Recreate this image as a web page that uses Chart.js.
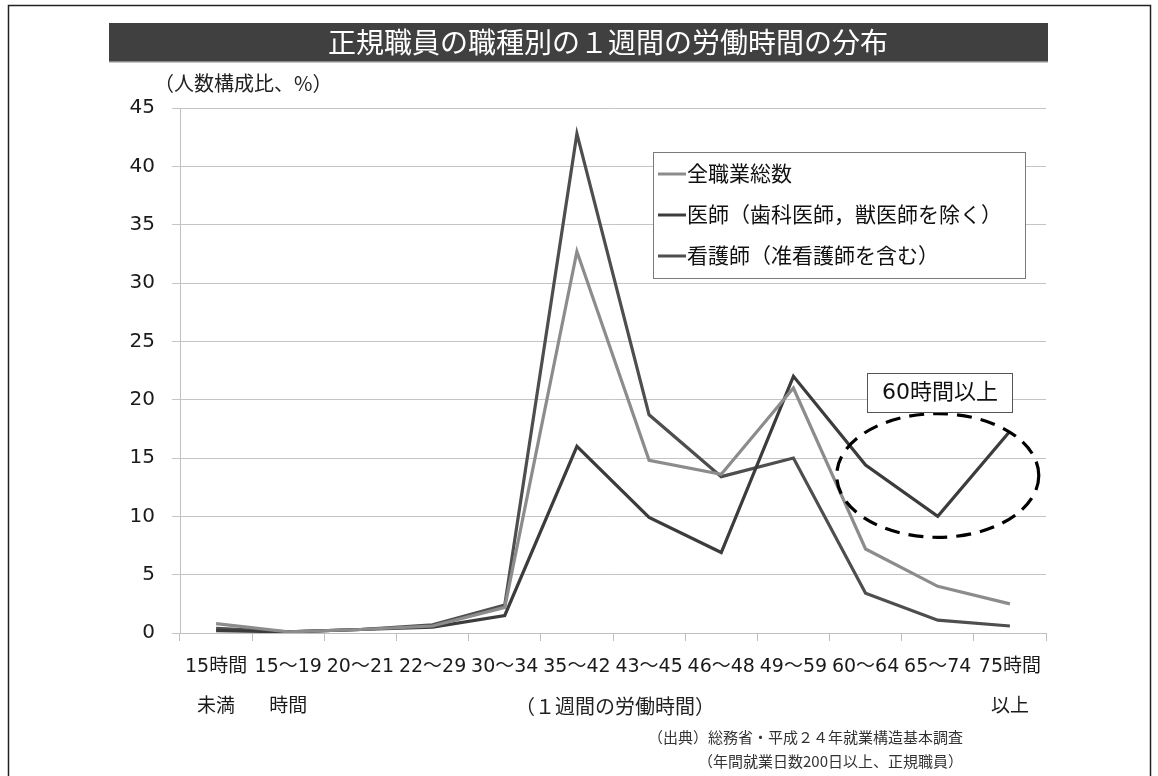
<!DOCTYPE html>
<html lang="ja">
<head>
<meta charset="utf-8">
<title>正規職員の職種別の１週間の労働時間の分布</title>
<script src="https://cdn.jsdelivr.net/npm/chart.js@4.4.1/dist/chart.umd.min.js"></script>
<style>
  html, body { margin: 0; padding: 0; background: #ffffff; }
  #wrap { position: relative; width: 1158px; height: 776px; }
  canvas { display: block; }
</style>
</head>
<body>
<div id="wrap"><canvas id="c" width="1158" height="776"></canvas></div>
<script>
// Weekly working-hour bands (x axis)
const hourBands = [
  ['15時間', '未満'], ['15～19', '時間'], '20～21', '22～29', '30～34', '35～42',
  '43～45', '46～48', '49～59', '60～64', '65～74', ['75時間', '以上']
];

// Share of regular employees in each band (%)
const allOccupations = [0.8, 0.1, 0.3, 0.6, 2.2, 32.7, 14.8, 13.6, 21.0, 7.2, 4.0, 2.5];
const doctors        = [0.2, 0.1, 0.3, 0.5, 1.5, 16.0, 9.9, 6.9, 22.0, 14.4, 10.0, 17.3];
const nurses         = [0.4, 0.1, 0.3, 0.7, 2.4, 42.8, 18.7, 13.4, 15.0, 3.4, 1.1, 0.6];

const seriesNames = ['全職業総数', '医師（歯科医師，獣医師を除く）', '看護師（准看護師を含む）'];
const yTicks = [0, 5, 10, 15, 20, 25, 30, 35, 40, 45];

const FONT = "'DejaVu Sans', 'Noto Sans CJK JP', sans-serif";
const JFONT = "'Noto Sans CJK JP', 'DejaVu Sans', sans-serif";

// Frame, title bar, captions, legend and the "60時間以上" callout
const decor = {
  id: 'decor',
  beforeDraw(chart) {
    const ctx = chart.ctx;
    ctx.save();
    ctx.fillStyle = '#ffffff';
    ctx.fillRect(0, 0, chart.width, chart.height);
    // outer frame
    ctx.strokeStyle = '#222222';
    ctx.lineWidth = 1.5;
    ctx.strokeRect(8.5, 5.5, 1142, 790);
    // title bar
    ctx.fillStyle = '#404040';
    ctx.fillRect(109, 23, 939, 39);
    ctx.fillStyle = '#8a8a8a';
    ctx.fillRect(109, 61, 939, 1.5);
    ctx.fillStyle = '#ffffff';
    ctx.font = '28px ' + JFONT;
    ctx.textAlign = 'center';
    ctx.textBaseline = 'middle';
    ctx.fillText('正規職員の職種別の１週間の労働時間の分布', 608, 42);
    // y unit
    ctx.fillStyle = '#222222';
    ctx.font = '20px ' + JFONT;
    ctx.textAlign = 'left';
    ctx.fillText('（人数構成比、%）', 154, 83);
    // x axis caption
    ctx.textAlign = 'center';
    ctx.font = '20px ' + JFONT;
    ctx.fillText('（１週間の労働時間）', 615, 706);
    // source notes
    ctx.fillStyle = '#333333';
    ctx.font = '15px ' + JFONT;
    ctx.textAlign = 'right';
    ctx.fillText('（出典）総務省・平成２４年就業構造基本調査', 963, 737);
    ctx.fillText('（年間就業日数200日以上、正規職員）', 963, 761);
    ctx.restore();
  },
  afterDatasetsDraw(chart) {
    const ctx = chart.ctx;
    const xs = chart.scales.x, ys = chart.scales.y;
    ctx.save();
    // dashed ellipse around the 60h+ bands
    const cx = xs.getPixelForValue(10);
    const cy = ys.getPixelForValue(13.5);
    const rx = (xs.getPixelForValue(11) - xs.getPixelForValue(10)) * 1.4;
    const ry = ys.getPixelForValue(0) - ys.getPixelForValue(5.3);
    ctx.beginPath();
    ctx.ellipse(cx, cy, rx, ry, 0, 0, Math.PI * 2);
    ctx.setLineDash([15, 9]);
    ctx.lineWidth = 3.2;
    ctx.strokeStyle = '#000000';
    ctx.stroke();
    ctx.setLineDash([]);
    // callout box
    ctx.fillStyle = '#ffffff';
    ctx.fillRect(867, 373, 145, 39);
    ctx.strokeStyle = '#555555';
    ctx.lineWidth = 1;
    ctx.strokeRect(867.5, 373.5, 145, 39);
    ctx.fillStyle = '#111111';
    ctx.font = '22px ' + FONT;
    ctx.textAlign = 'center';
    ctx.textBaseline = 'middle';
    ctx.fillText('60時間以上', 940, 393);
    // legend
    ctx.fillStyle = '#ffffff';
    ctx.fillRect(653, 152, 372, 126);
    ctx.strokeStyle = '#7a7a7a';
    ctx.lineWidth = 1;
    ctx.strokeRect(653.5, 152.5, 372, 126);
    const rows = [173, 214, 255];
    chart.data.datasets.forEach((ds, i) => {
      ctx.strokeStyle = ds.borderColor;
      ctx.lineWidth = 3;
      ctx.beginPath();
      ctx.moveTo(658, rows[i] + 1);
      ctx.lineTo(686, rows[i] + 1);
      ctx.stroke();
      ctx.fillStyle = '#111111';
      ctx.font = '21px ' + JFONT;
      ctx.textAlign = 'left';
      ctx.fillText(ds.label, 687, rows[i]);
    });
    ctx.restore();
  }
};

new Chart(document.getElementById('c'), {
  type: 'line',
  data: {
    labels: hourBands,
    datasets: [
      { label: seriesNames[0], data: allOccupations, borderColor: '#8c8c8c' },
      { label: seriesNames[1], data: doctors, borderColor: '#3c3c3c' },
      { label: seriesNames[2], data: nurses, borderColor: '#4e4e4e' }
    ]
  },
  options: {
    responsive: false,
    animation: false,
    devicePixelRatio: 1,
    layout: { padding: { left: 0, top: 108, right: 112, bottom: 0 } },
    elements: {
      line: { borderWidth: 3.2, tension: 0, borderJoinStyle: 'miter' },
      point: { radius: 0, hoverRadius: 0 }
    },
    plugins: { legend: { display: false }, title: { display: false }, tooltip: { enabled: false } },
    scales: {
      x: {
        offset: true,
        grid: { offset: true, drawOnChartArea: false, drawTicks: true, tickLength: 8, color: '#bfbfbf' },
        border: { color: '#bfbfbf', width: 1 },
        ticks: {
          autoSkip: false, maxRotation: 0, padding: 6, color: '#1a1a1a',
          font: { family: FONT, size: 19, lineHeight: 2.1 }
        },
        afterFit(s) { s.height = 143; }
      },
      y: {
        min: 0, max: 45,
        afterBuildTicks(s) { s.ticks = yTicks.map(v => ({ value: v })); },
        grid: { color: '#c4c4c4', lineWidth: 1, tickLength: 8 },
        border: { color: '#bfbfbf', width: 1 },
        ticks: { padding: 17, color: '#1a1a1a', font: { family: FONT, size: 20 } },
        afterFit(s) { s.width = 180; }
      }
    }
  },
  plugins: [decor]
});
</script>
</body>
</html>
